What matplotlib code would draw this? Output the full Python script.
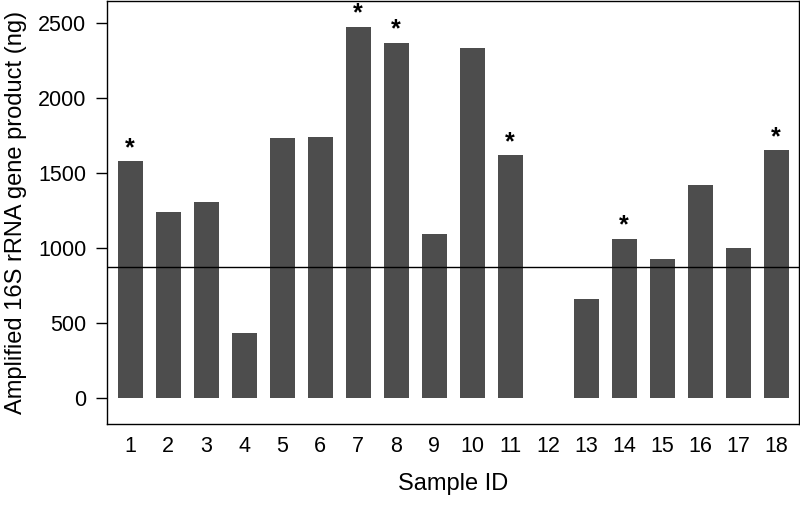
import matplotlib
matplotlib.use("Agg")
import matplotlib.pyplot as plt

plt.rcParams['font.family'] = ['Liberation Sans', 'DejaVu Sans']

# sample ids and amplified product (ng)
sample_ids = list(range(1, 19))
amounts = [1577, 1238, 1309, 433, 1735, 1741, 2473, 2367, 1092,
           2334, 1617, 5, 661, 1060, 927, 1422, 1000, 1651]
starred = [1, 7, 8, 11, 14, 18]
threshold = 872

fig = plt.figure(figsize=(8, 5.12), dpi=100)
ax = fig.add_axes([0.134, 0.171, 0.865, 0.827])

ax.bar(sample_ids, amounts, width=0.65, color="#4d4d4d", zorder=2)
ax.axhline(threshold, color="black", lw=1.0, zorder=3)

for s in starred:
    v = amounts[s - 1]
    ax.annotate("*", (s, v), xytext=(0, 1), textcoords="offset points",
                ha="center", va="bottom", fontsize=18, fontweight="bold")

ax.set_xlim(1 - 0.605, 18 + 0.605)
ax.set_ylim(-173, 2644)
ax.set_xticks(sample_ids)
ax.set_xticklabels([str(i) for i in sample_ids])
ax.set_yticks([0, 500, 1000, 1500, 2000, 2500])
ax.tick_params(axis="x", length=0, pad=8, labelsize=15.5)
ax.tick_params(axis="y", length=8, width=1, pad=7, labelsize=15.5)
for sp in ax.spines.values():
    sp.set_linewidth(1.0)

ax.set_xlabel("Sample ID", fontsize=17, labelpad=12)
ax.set_ylabel("Amplified 16S rRNA gene product (ng)", fontsize=17, labelpad=8)

fig.savefig("out.png", dpi=100)
